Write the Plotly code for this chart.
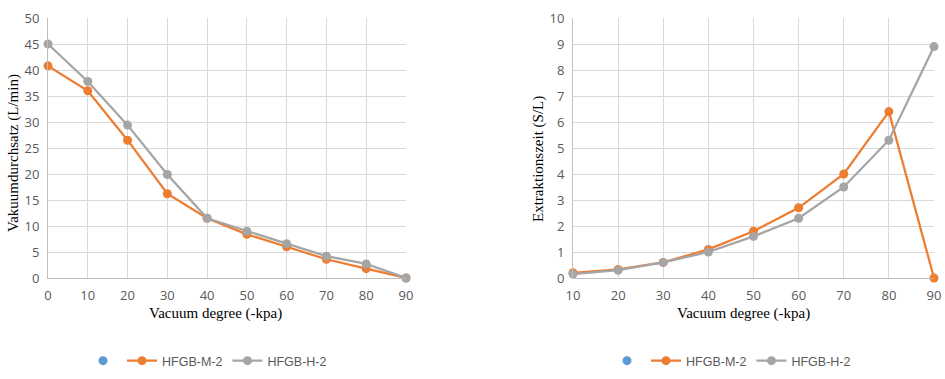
import plotly.graph_objects as go

x_left = [0, 10, 20, 30, 40, 50, 60, 70, 80, 90]
left_m2 = [40.8, 36.0, 26.5, 16.2, 11.5, 8.4, 6.0, 3.6, 1.8, 0.0]
left_h2 = [45.0, 37.8, 29.4, 19.9, 11.5, 9.0, 6.6, 4.2, 2.7, 0.0]

x_right = [10, 20, 30, 40, 50, 60, 70, 80, 90]
right_m2 = [0.2, 0.33, 0.6, 1.1, 1.8, 2.7, 4.0, 6.4, 0.0]
right_h2 = [0.15, 0.3, 0.6, 1.0, 1.6, 2.3, 3.5, 5.3, 8.9]

names = ["HFGB-M-2", "HFGB-H-2"]
ORANGE = "#ED7D31"
GRAY = "#A5A5A5"
BLUE = "#5B9BD5"

W, H = 945, 379


def px(X):
    return X / W


def py(Y):
    return 1 - Y / H


fig = go.Figure()


def add_set(xs, m2, h2, xa, ya, leg, legdot):
    fig.add_trace(go.Scatter(x=[None], y=[None], mode="markers", name="",
                             marker=dict(color=BLUE, size=9), xaxis=xa, yaxis=ya,
                             legend=legdot, showlegend=True))
    fig.add_trace(go.Scatter(x=xs, y=m2, mode="lines+markers", name=names[0],
                             line=dict(color=ORANGE, width=2.25),
                             marker=dict(color=ORANGE, size=9),
                             xaxis=xa, yaxis=ya, legend=leg, cliponaxis=False))
    fig.add_trace(go.Scatter(x=xs, y=h2, mode="lines+markers", name=names[1],
                             line=dict(color=GRAY, width=2.25),
                             marker=dict(color=GRAY, size=9),
                             xaxis=xa, yaxis=ya, legend=leg, cliponaxis=False))


add_set(x_left, left_m2, left_h2, "x", "y", "legend", "legend3")
add_set(x_right, right_m2, right_h2, "x2", "y2", "legend2", "legend4")

tickfont = dict(family="Open Sans, Liberation Sans, Arial", size=13, color="#595959")
ax_common = dict(showgrid=True, gridcolor="#D9D9D9", gridwidth=1, zeroline=False,
                 showline=True, linecolor="#BFBFBF", linewidth=1, ticks="",
                 tickfont=tickfont, mirror=False, automargin=False,
                 ticklabeloverflow="allow")

ydom = [py(278), py(18)]
legfont = dict(family="Liberation Sans, Arial", size=12.5, color="#595959")


def leg(xpage):
    return dict(orientation="h", xref="container", yref="container",
                x=px(xpage), y=py(361), xanchor="left", yanchor="middle",
                font=legfont, itemwidth=30, tracegroupgap=0, bgcolor="rgba(0,0,0,0)")


fig.update_layout(
    width=W, height=H,
    margin=dict(l=0, r=0, t=0, b=0, autoexpand=False),
    paper_bgcolor="white", plot_bgcolor="white",
    xaxis=dict(domain=[px(48), px(406)], range=[0, 90], dtick=10, tick0=0, anchor="y",
               ticklabelstandoff=5, **ax_common),
    yaxis=dict(domain=ydom, range=[0, 50], dtick=5, anchor="x", ticklabelstandoff=5, **ax_common),
    xaxis2=dict(domain=[px(573), px(934)], range=[10, 90], dtick=10, tick0=10, anchor="y2",
                ticklabelstandoff=5, **ax_common),
    yaxis2=dict(domain=ydom, range=[0, 10], dtick=1, anchor="x2", ticklabelstandoff=5, **ax_common),
    legend=leg(122),
    legend2=leg(646),
    legend3=leg(83),
    legend4=leg(607),
)

titlefont = dict(family="Liberation Serif, Times New Roman", size=15, color="black")
fig.add_annotation(text="Vacuum degree (-kpa)", x=px(215), y=py(313), xref="paper", yref="paper",
                   showarrow=False, font=titlefont, xanchor="center", yanchor="middle")
fig.add_annotation(text="Vacuum degree (-kpa)", x=px(743), y=py(313), xref="paper", yref="paper",
                   showarrow=False, font=titlefont, xanchor="center", yanchor="middle")
fig.add_annotation(text="Vakuumdurchsatz (L/min)", x=px(13), y=py(153), xref="paper", yref="paper",
                   showarrow=False, font=titlefont, textangle=-90, xanchor="center", yanchor="middle")
fig.add_annotation(text="Extraktionszeit (S/L)", x=px(538), y=py(159), xref="paper", yref="paper",
                   showarrow=False, font=titlefont, textangle=-90, xanchor="center", yanchor="middle")

fig.write_html("out.html",
               config={"displayModeBar": False},
               post_script="document.body.style.margin='0';document.body.style.overflow='hidden';")
